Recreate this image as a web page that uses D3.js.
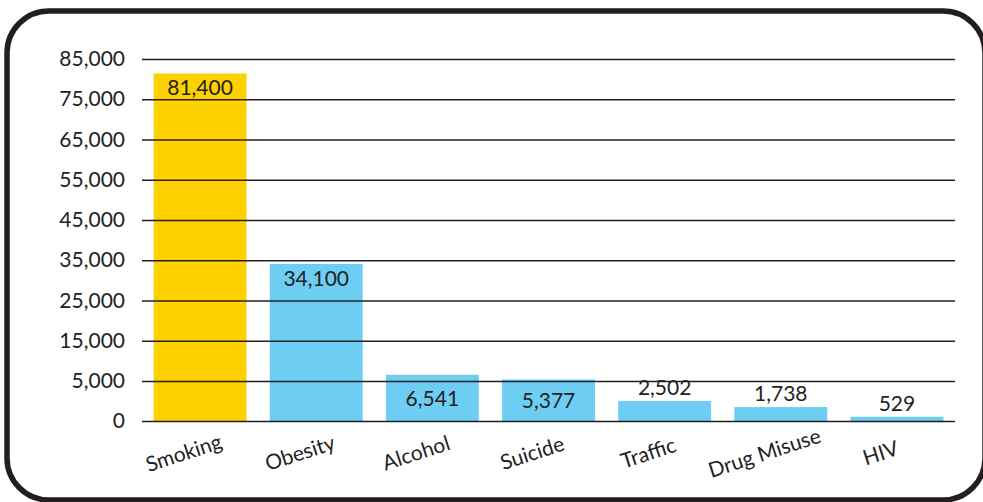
<!DOCTYPE html>
<html>
<head>
<meta charset="utf-8">
<script src="https://cdn.jsdelivr.net/npm/d3@7"></script>
<style>
  body { margin: 0; background: #fff; }
  text { font-family: Lato, "Open Sans", sans-serif; fill: #222; }
</style>
</head>
<body>
<svg id="chart" width="983" height="502"></svg>
<script>
// chart data
const categories = ["Smoking", "Obesity", "Alcohol", "Suicide", "Traffic", "Drug Misuse", "HIV"];
const deaths = [81400, 34100, 6541, 5377, 2502, 1738, 529];
const barColors = ["#FDD000", "#6DCDF3", "#6DCDF3", "#6DCDF3", "#6DCDF3", "#6DCDF3", "#6DCDF3"];
const tickValues = [0, 5000, 15000, 25000, 35000, 45000, 55000, 65000, 75000, 85000];
// label inside bar (true) or above it (false)
const labelInside = [true, true, true, true, false, false, false];

const svg = d3.select("#chart");

// rounded frame
svg.append("rect")
    .attr("x", 7)
    .attr("y", 11)
    .attr("width", 978)
    .attr("height", 489)
    .attr("rx", 42)
    .attr("fill", "none")
    .attr("stroke", "#231f20")
    .attr("stroke-width", 5.5);

const x = d3.scaleBand()
    .domain(categories)
    .range([142, 955])
    .paddingInner(0.2)
    .paddingOuter(0.1);

// the original axis is stretched between 0 and 5,000
const y = d3.scaleLinear()
    .domain([0, 5000, 85000])
    .range([421, 381, 59]);

const fmt = d3.format(",");

// bars
svg.append("g")
    .selectAll("rect")
    .data(deaths)
    .enter()
    .append("rect")
    .attr("x", (d, i) => x(categories[i]))
    .attr("y", d => y(d))
    .attr("width", x.bandwidth())
    .attr("height", d => y(0) - y(d))
    .attr("fill", (d, i) => barColors[i]);

// gridlines sit on top of the bars
const axis = d3.axisLeft(y)
    .tickValues(tickValues)
    .tickFormat(fmt)
    .tickSize(-(955 - 142))
    .tickPadding(17);

const gAxis = svg.append("g")
    .attr("transform", "translate(142,0)")
    .call(axis);

gAxis.select(".domain").remove();
gAxis.selectAll(".tick line")
    .attr("stroke", "#231f20")
    .attr("stroke-width", 1.3);
gAxis.selectAll(".tick text")
    .style("font-size", "21px")
    .attr("fill", "#222");

// value labels
svg.append("g")
    .selectAll("text")
    .data(deaths)
    .enter()
    .append("text")
    .attr("x", (d, i) => x(categories[i]) + x.bandwidth() / 2)
    .attr("y", (d, i) => {
        if (!labelInside[i]) return y(d) - 6;
        if (d < 10000) return (y(d) + y(0)) / 2 + 8;
        return y(d) + 22;
    })
    .attr("text-anchor", "middle")
    .style("font-size", "21px")
    .text(d => fmt(d));

// category labels, tilted
svg.append("g")
    .selectAll("text")
    .data(categories)
    .enter()
    .append("text")
    .attr("transform", d => `translate(${x(d) + x.bandwidth() / 2 - 14},460) rotate(-18)`)
    .attr("text-anchor", "middle")
    .style("font-size", "21px")
    .text(d => d);
</script>
</body>
</html>
